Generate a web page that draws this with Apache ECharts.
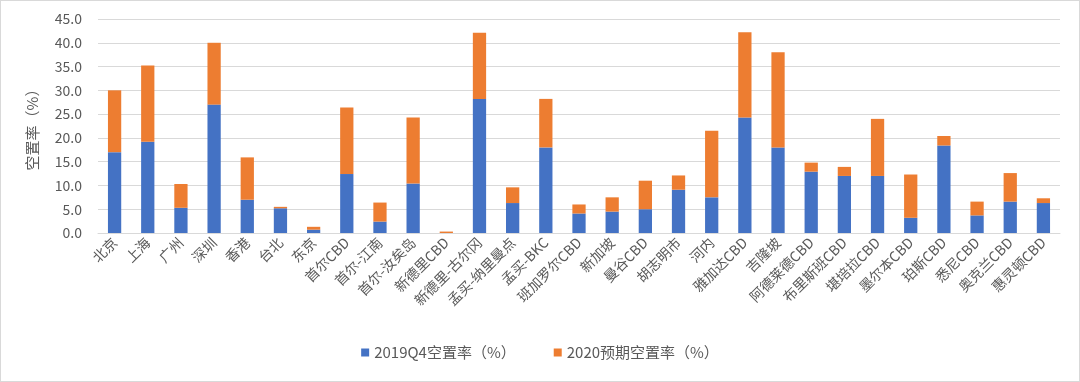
<!DOCTYPE html>
<html><head><meta charset="utf-8">
<script src="https://cdn.jsdelivr.net/npm/echarts@6/dist/echarts.min.js"></script>
<style>html,body{margin:0;padding:0;background:#fff}#c{width:1078px;height:380px;border:1px solid #d9d9d9}</style>
</head><body><div id="c"></div>
<script>
const categories = ['北京','上海','广州','深圳','香港','台北','东京','首尔CBD','首尔-江南','首尔-汝矣岛','新德里CBD','新德里-古尔冈','孟买-纳里曼点','孟买-BKC','班加罗尔CBD','新加坡','曼谷CBD','胡志明市','河内','雅加达CBD','吉隆坡','阿德莱德CBD','布里斯班CBD','堪培拉CBD','墨尔本CBD','珀斯CBD','悉尼CBD','奥克兰CBD','惠灵顿CBD'];
const vac2019 = [17.0,19.2,5.3,27.0,7.0,5.2,0.7,12.4,2.4,10.4,0.0,28.2,6.3,18.0,4.1,4.5,5.0,9.1,7.5,24.3,18.0,12.9,12.0,12.0,3.2,18.4,3.7,6.6,6.3];
const vac2020 = [13.0,16.0,5.0,13.0,8.9,0.3,0.6,14.0,4.0,13.9,0.3,13.9,3.3,10.2,1.9,3.0,6.0,3.0,14.0,17.9,20.0,1.9,1.9,12.0,9.1,2.0,2.9,6.0,1.0];
const seriesNames = ['2019Q4空置率（%）','2020预期空置率（%）'];
const yTicks = {min:0,max:45,interval:5};
const font = '"Noto Sans CJK SC", "Microsoft YaHei", sans-serif';
const chart = echarts.init(document.getElementById('c'));
chart.setOption({
  animation:false,
  textStyle:{fontFamily:font},
  grid:{left:97,right:19,top:18,bottom:148},
  legend:{bottom:16,left:'center',itemWidth:8,itemHeight:8,itemGap:38,icon:'rect',
    textStyle:{color:'#595959',fontSize:15,fontFamily:font},data:seriesNames},
  xAxis:{type:'category',data:categories,
    axisLine:{lineStyle:{color:'#d9d9d9'}},axisTick:{show:false},
    axisLabel:{interval:0,rotate:45,color:'#595959',fontSize:14,margin:7,fontFamily:font}},
  yAxis:{type:'value',min:yTicks.min,max:yTicks.max,interval:yTicks.interval,
    name:'空置率（%）',nameLocation:'middle',nameRotate:90,nameGap:58,
    nameTextStyle:{color:'#595959',fontSize:15,fontFamily:font},
    axisLine:{show:false},axisTick:{show:false},
    splitLine:{lineStyle:{color:'#d9d9d9'}},
    axisLabel:{color:'#595959',fontSize:14,margin:16,formatter:v=>v.toFixed(1),fontFamily:font}},
  series:[
    {name:seriesNames[0],type:'bar',stack:'a',barWidth:'40%',itemStyle:{color:'#4472C4'},data:vac2019},
    {name:seriesNames[1],type:'bar',stack:'a',barWidth:'40%',itemStyle:{color:'#ED7D31'},data:vac2020}
  ]
});
</script></body></html>
